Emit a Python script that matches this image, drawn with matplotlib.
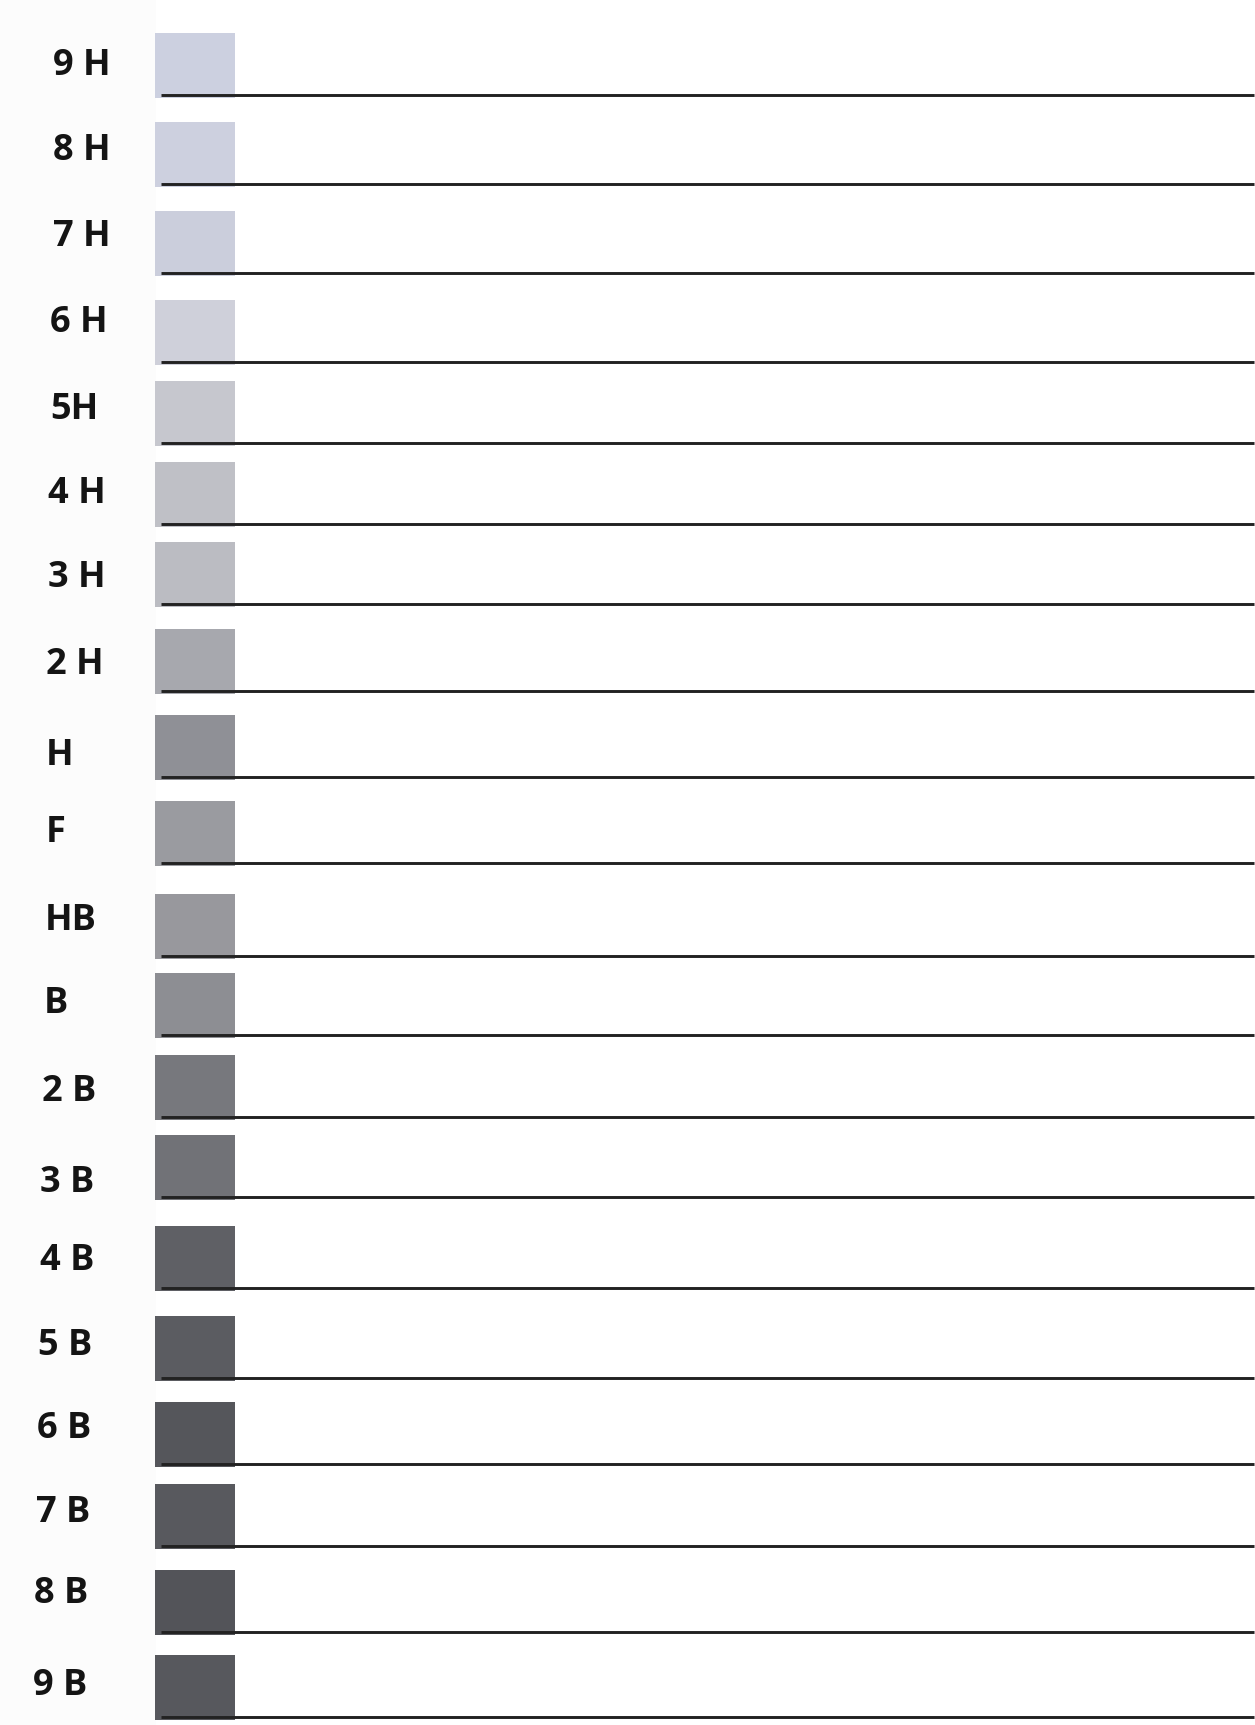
import matplotlib
matplotlib.use("Agg")
import matplotlib.pyplot as plt

# ── Pencil grades, top to bottom ──
GRADES = ["9 H", "8 H", "7 H", "6 H", "5H", "4 H", "3 H", "2 H", "H", "F",
          "HB", "B", "2 B", "3 B", "4 B", "5 B", "6 B", "7 B", "8 B", "9 B"]

# shade of each swatch as scanned
SWATCH_COLORS = ["#ccd0e0", "#cdd0df", "#cbcedc", "#cfd0da", "#c6c7ce",
                 "#bfc0c6", "#bbbcc2", "#a7a8ae", "#8f9096", "#9a9ba0",
                 "#98989d", "#8d8e93", "#77787d", "#717277", "#5f6065",
                 "#5b5c61", "#55565b", "#58595e", "#535459", "#57585d"]

# writing-line rows (pixels from top) and label placement
LINE_Y = [95, 184, 273, 362, 443, 524, 604, 691, 777, 863,
          956, 1035, 1117, 1197, 1288, 1378, 1464, 1546, 1632, 1717]
LABEL_Y = [66, 151, 237, 323, 410, 494, 578, 665, 756, 833,
           921, 1004, 1092, 1183, 1261, 1346, 1429, 1513, 1594, 1686]
LABEL_X = [53, 53, 53, 50, 50, 48, 48, 46, 46, 46,
           45, 44, 42, 40, 40, 38, 37, 36, 34, 33]

W, H = 1255, 1725
fig = plt.figure(figsize=(W / 100, H / 100), dpi=100)
ax = fig.add_axes([0, 0, 1, 1])
ax.set_xlim(0, W)
ax.set_ylim(H, 0)
ax.axis("off")

# faint scanner margin on the left
ax.add_patch(plt.Rectangle((0, 0), 156, H, facecolor="#fcfcfc", edgecolor="none", zorder=0))

for label, color, ly, ty, tx in zip(GRADES, SWATCH_COLORS, LINE_Y, LABEL_Y, LABEL_X):
    ax.add_patch(plt.Rectangle((155, ly - 62), 80, 65,
                               facecolor=color, edgecolor="none", zorder=1))
    ax.text(tx, ty, label, ha="left", va="center", fontsize=26,
            fontweight="bold", family="Open Sans", color="#141414", zorder=3)

ax.hlines(LINE_Y, 161, 1254, colors="#222222", linewidth=2.1, zorder=2)

fig.savefig("out.png", dpi=100)
plt.close(fig)
